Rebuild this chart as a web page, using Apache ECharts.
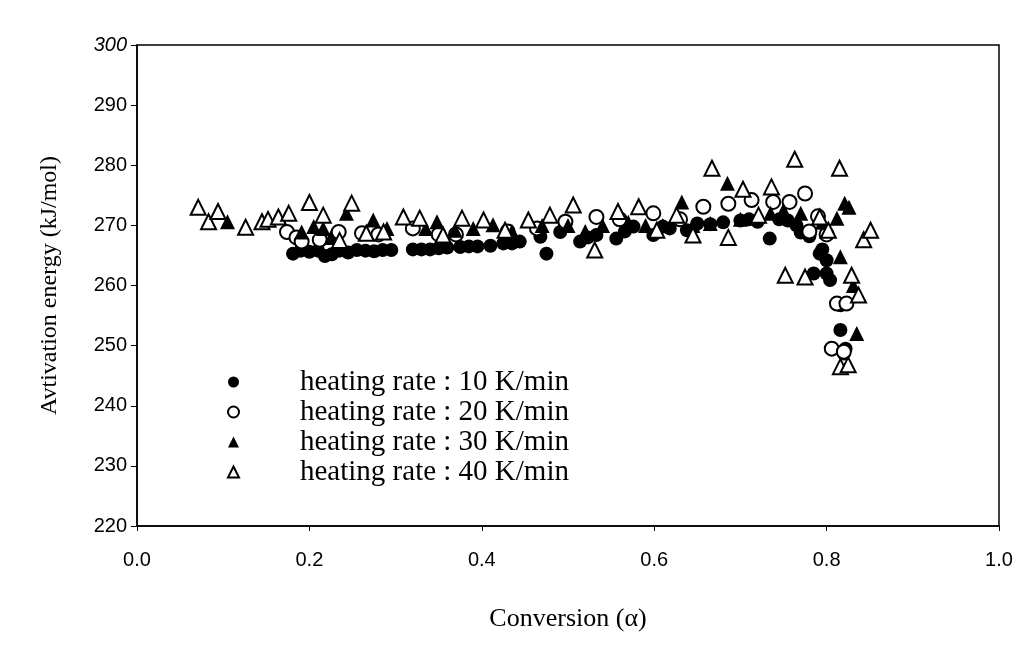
<!DOCTYPE html>
<html>
<head>
<meta charset="utf-8">
<script src="https://cdn.jsdelivr.net/npm/echarts@6/dist/echarts.min.js"></script>
<style>
html, body { margin: 0; padding: 0; background: #fff; }
#chart { width: 1034px; height: 648px; }
</style>
</head>
<body>
<div id="chart"></div>
<script>
// heating rate 10 K/min (filled circles)
var rate10 = [
    [0.181, 265.3], [0.19, 265.8], [0.20, 265.6], [0.21, 265.8], [0.218, 264.9], [0.226, 265.2],
    [0.235, 265.8], [0.245, 265.5], [0.255, 265.9], [0.265, 265.8], [0.275, 265.7], [0.285, 265.9],
    [0.295, 265.9], [0.32, 266], [0.33, 266], [0.34, 266], [0.35, 266.2], [0.36, 266.3],
    [0.375, 266.4], [0.385, 266.5], [0.395, 266.5], [0.41, 266.6], [0.425, 267], [0.435, 267],
    [0.444, 267.3], [0.468, 268.1], [0.475, 265.3], [0.491, 268.9], [0.514, 267.3], [0.523, 268],
    [0.533, 268.4], [0.556, 267.8], [0.566, 269], [0.576, 269.8], [0.599, 268.4], [0.61, 269.8],
    [0.618, 269.5], [0.638, 269.2], [0.65, 270.3], [0.665, 270.2], [0.68, 270.5], [0.70, 270.8],
    [0.71, 271], [0.72, 270.6], [0.734, 267.8], [0.745, 271], [0.755, 270.8], [0.765, 270],
    [0.77, 268.8], [0.78, 268.2], [0.785, 262], [0.792, 265.3], [0.795, 266], [0.80, 264.2],
    [0.80, 262], [0.804, 260.9], [0.812, 257], [0.816, 256.7], [0.816, 252.6], [0.82, 248.7],
    [0.822, 249.5]
];
// heating rate 20 K/min (open circles)
var rate20 = [
    [0.174, 268.9], [0.185, 268], [0.191, 267.3], [0.212, 267.6], [0.234, 268.9], [0.261, 268.7],
    [0.28, 268.5], [0.32, 269.5], [0.35, 268.5], [0.37, 268.5], [0.43, 269], [0.464, 269.5],
    [0.497, 270.6], [0.533, 271.4], [0.56, 271], [0.599, 272], [0.63, 271], [0.657, 273.1],
    [0.686, 273.6], [0.713, 274.2], [0.738, 273.9], [0.757, 273.9], [0.775, 275.3], [0.78, 269],
    [0.79, 271.5], [0.80, 268.5], [0.806, 249.5], [0.812, 257], [0.823, 257], [0.82, 249]
];
// heating rate 30 K/min (filled triangles)
var rate30 = [
    [0.105, 270.6], [0.191, 268.9], [0.205, 269.8], [0.216, 269.5], [0.225, 268], [0.243, 272],
    [0.274, 270.9], [0.29, 269.5], [0.335, 269.5], [0.348, 270.6], [0.369, 269.2], [0.39, 269.5],
    [0.413, 270.1], [0.435, 269], [0.47, 270], [0.50, 270], [0.52, 269], [0.54, 270],
    [0.57, 270.5], [0.59, 270], [0.61, 270], [0.632, 273.9], [0.645, 270], [0.665, 270.3],
    [0.685, 277], [0.70, 271], [0.72, 271.5], [0.735, 272], [0.75, 272.5], [0.77, 272],
    [0.795, 270.5], [0.812, 271.2], [0.816, 264.8], [0.821, 273.7], [0.826, 273], [0.831, 260],
    [0.835, 252]
];
// heating rate 40 K/min (open triangles)
var rate40 = [
    [0.071, 273], [0.083, 270.6], [0.094, 272.3], [0.126, 269.7], [0.145, 270.6], [0.152, 271],
    [0.164, 271.4], [0.176, 272], [0.20, 273.8], [0.216, 271.7], [0.235, 267.5], [0.249, 273.7],
    [0.266, 268.7], [0.286, 268.9], [0.309, 271.4], [0.328, 271.2], [0.355, 268.4], [0.377, 271.2],
    [0.402, 270.9], [0.427, 269.2], [0.454, 270.9], [0.479, 271.7], [0.506, 273.4], [0.531, 265.9],
    [0.558, 272.3], [0.582, 273.1], [0.603, 269.2], [0.626, 271.7], [0.645, 268.4], [0.667, 279.5],
    [0.686, 268], [0.703, 276], [0.721, 271.7], [0.736, 276.4], [0.752, 261.7], [0.763, 281],
    [0.775, 261.4], [0.792, 271.4], [0.802, 269.2], [0.815, 279.5], [0.816, 246.5], [0.825, 246.8],
    [0.829, 261.7], [0.837, 258.4], [0.843, 267.6], [0.851, 269.2]
];
var seriesNames = [
    'heating rate : 10 K/min',
    'heating rate : 20 K/min',
    'heating rate : 30 K/min',
    'heating rate : 40 K/min'
];

var chart = echarts.init(document.getElementById('chart'));

var serif = '"Liberation Serif", "DejaVu Serif", serif';
var sans = '"Liberation Sans", Arial, sans-serif';

function makeSeries(name, data, symbol, filled) {
    return {
        name: name,
        type: 'scatter',
        data: data,
        symbol: symbol,
        symbolSize: symbol === 'circle' ? 14 : 15,
        itemStyle: {
            color: filled ? '#000' : '#fff',
            borderColor: '#000',
            borderWidth: filled ? 0 : 2,
            opacity: 1
        }
    };
}

var option = {
    backgroundColor: '#fff',
    animation: false,
    grid: { left: 137, right: 35, top: 45, bottom: 122, show: true, borderColor: '#000', borderWidth: 1.5 },
    legend: {
        orient: 'vertical',
        left: 222,
        top: 362,
        itemWidth: 11,
        itemHeight: 11,
        itemGap: 0,
        textStyle: { fontFamily: serif, fontSize: 29, lineHeight: 30, color: '#000', padding: [0, 0, 0, 56] },
        data: seriesNames
    },
    xAxis: {
        type: 'value',
        min: 0, max: 1, interval: 0.2,
        name: 'Conversion (\u03b1)',
        nameLocation: 'middle',
        nameGap: 80,
        nameTextStyle: { fontFamily: serif, fontSize: 26, color: '#000' },
        axisLine: { onZero: false, lineStyle: { color: '#000', width: 1.5 } },
        axisTick: { show: true, inside: false, length: 5, lineStyle: { color: '#000' } },
        axisLabel: { fontFamily: sans, fontSize: 20, color: '#000', margin: 24,
            formatter: function (v) { return v.toFixed(1); } },
        splitLine: { show: false }
    },
    yAxis: {
        type: 'value',
        min: 220, max: 300, interval: 10,
        name: 'Avtivation energy (kJ/mol)',
        nameLocation: 'middle',
        nameGap: 75,
        nameTextStyle: { fontFamily: serif, fontSize: 24, color: '#000' },
        axisLine: { lineStyle: { color: '#000', width: 1.5 } },
        axisTick: { show: true, inside: false, length: 6, lineStyle: { color: '#000' } },
        axisLabel: { fontFamily: sans, fontSize: 20, color: '#000', margin: 10,
            formatter: function (v) { return v === 300 ? '{i|300}' : String(v); },
            rich: { i: { fontFamily: sans, fontSize: 20, fontStyle: 'italic', color: '#000' } } },
        splitLine: { show: false }
    },
    series: [
        makeSeries(seriesNames[0], rate10, 'circle', true),
        makeSeries(seriesNames[1], rate20, 'circle', false),
        makeSeries(seriesNames[2], rate30, 'triangle', true),
        makeSeries(seriesNames[3], rate40, 'triangle', false)
    ]
};

chart.setOption(option);
</script>
</body>
</html>
